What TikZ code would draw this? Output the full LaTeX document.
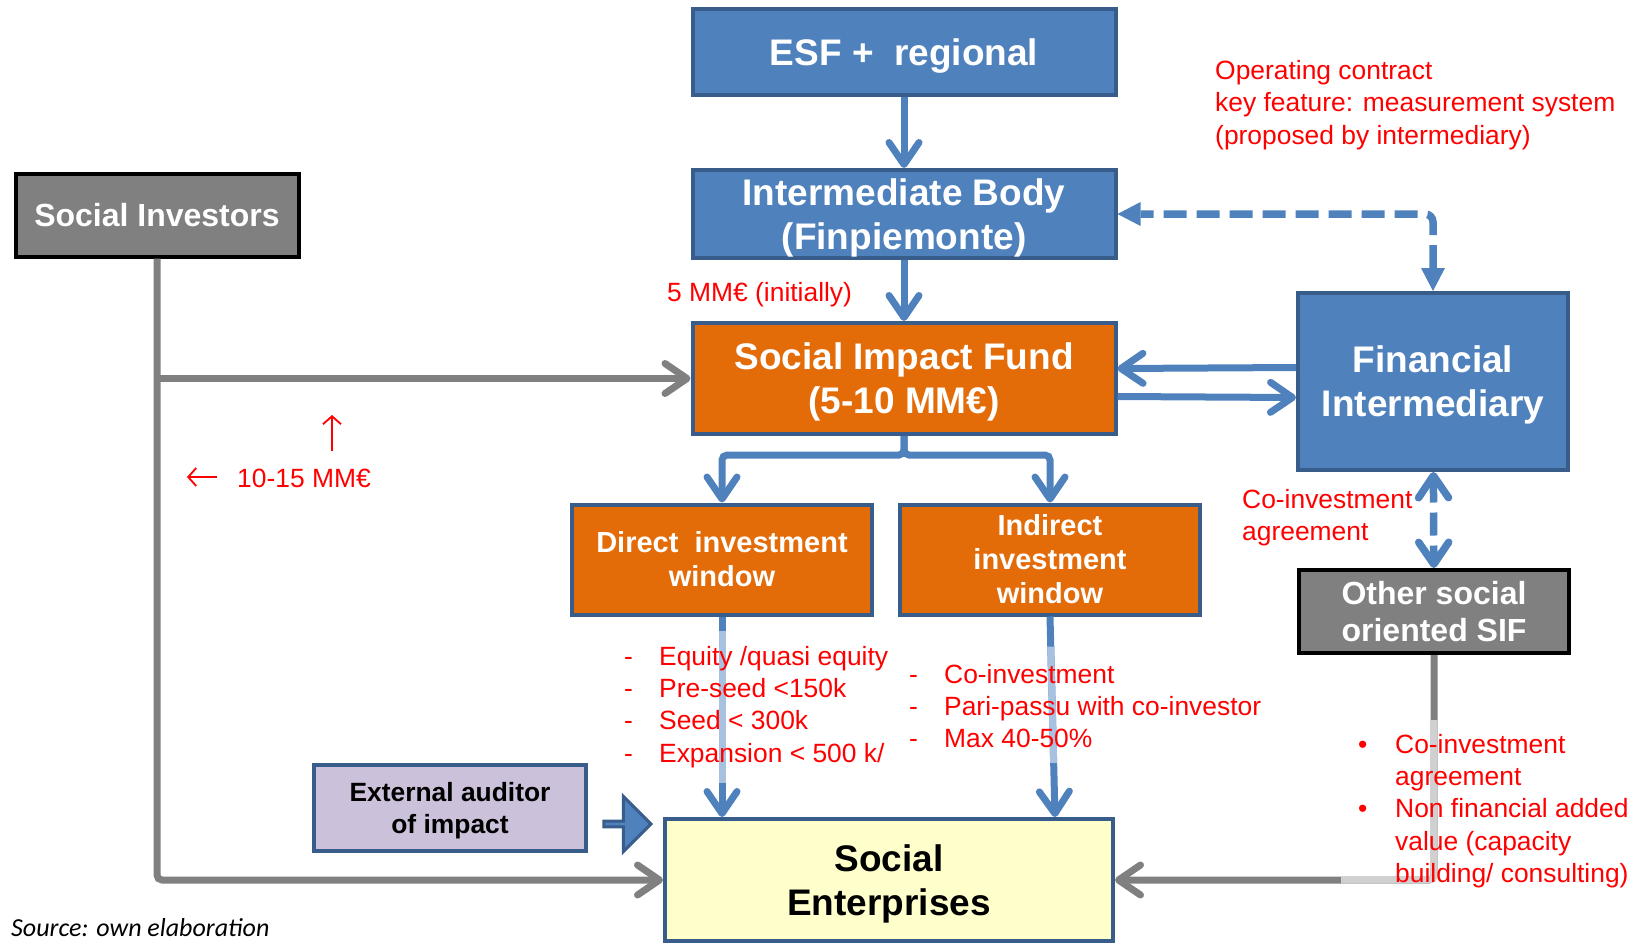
\documentclass[tikz,border=0pt]{standalone}
\usepackage{fontspec}
\setmainfont{Liberation Sans}
\newfontfamily\sourcefont{Carlito}
\usetikzlibrary{arrows.meta,calc,shapes.arrows}

\definecolor{esfblue}{HTML}{4F81BD}
\definecolor{rimblue}{HTML}{385D8A}
\definecolor{fundorange}{HTML}{E36C09}
\definecolor{lilac}{HTML}{CCC1DA}
\definecolor{paleyellow}{HTML}{FFFFCC}
\definecolor{flowgray}{HTML}{808080}
\definecolor{fadegray}{HTML}{D0D0D0}
\definecolor{fadeblue}{HTML}{A9C1E0}

% struts so that the capitals sit in the middle of a box
\newcommand\capup{\rule{0pt}{0.95em}}
\newcommand\capdown{\rule[-0.234em]{0pt}{0.234em}}

\tikzset{
  box/.style={draw=rimblue, line width=4pt, fill=esfblue, text=white, align=center, inner sep=0pt},
  fundbox/.style={box, fill=fundorange},
  graybox/.style={box, draw=black, fill=flowgray},
  bigtext/.style={font=\bfseries\fontsize{37}{44}\selectfont},
  midtext/.style={font=\bfseries\fontsize{32}{37}\selectfont},
  wintext/.style={font=\bfseries\fontsize{29}{34}\selectfont},
  note/.style={text=red, align=left, inner sep=0pt, font=\fontsize{26.4}{32.2}\selectfont},
  barb/.tip={Straight Barb[length=22pt,width=30pt,round]},
  flow/.style={draw=esfblue, line width=7pt, -barb},
  grayflow/.style={draw=flowgray, line width=7pt, -barb},
  linkdash/.style={draw=esfblue, line width=7.5pt, dash pattern=on 23pt off 10pt},
}

\begin{document}
\begin{tikzpicture}[x=1pt,y=-1pt]
    \useasboundingbox (0,0) rectangle (1636,943);

    % boxes
    \node[box, bigtext, minimum width=423pt, minimum height=86pt] (esf) at (904,52) {\capup ESF +\ \ regional\capdown};
    \node[box, bigtext, minimum width=423pt, minimum height=88pt] (body) at (904,214) {\capup Intermediate Body\\(Finpiemonte)\capdown};
    \node[fundbox, bigtext, minimum width=423pt, minimum height=111pt] (fund) at (904,378.5) {\capup Social Impact Fund\\(5-10 MM€)\capdown};
    \node[graybox, midtext, minimum width=283pt, minimum height=83pt] (investors) at (157,215) {\capup Social Investors\capdown};
    \node[box, bigtext, minimum width=270pt, minimum height=177pt] (fi) at (1433,381.5) {\capup Financial\\Intermediary\capdown};
    \node[fundbox, wintext, minimum width=300pt, minimum height=110pt] (direct) at (722,559.5) {\capup Direct\ \ investment\\window\capdown};
    \node[fundbox, wintext, minimum width=300pt, minimum height=110pt] (indirect) at (1050,559.5) {\capup Indirect\\investment\\window\capdown};
    \node[graybox, midtext, minimum width=270pt, minimum height=83pt] (other) at (1434,611.5) {\capup Other social\\oriented SIF\capdown};
    \node[box, fill=lilac, text=black, font=\bfseries\fontsize{26.4}{32}\selectfont,
          minimum width=272pt, minimum height=86pt] (auditor) at (450,808) {\capup External auditor\\of impact\capdown};
    \node[box, fill=paleyellow, text=black, bigtext, minimum width=448pt, minimum height=122pt] (enterprises) at (889,880) {\capup Social\\Enterprises\capdown};
    \node[single arrow, draw=rimblue, fill=esfblue, line width=3pt, inner sep=0pt,
          minimum width=55pt, minimum height=47pt, single arrow head extend=13pt] (auditflow) at (626,824) {};

    % money flows
    \draw[flow] (esf) -- (body);
    \draw[flow] (body) -- (fund);
    \draw[flow] ([yshift=14pt]fi.west) -- ([yshift=10pt]fund.east);
    \draw[flow] ([yshift=-18pt]fund.east) -- ([yshift=-16pt]fi.west);
    \draw[flow, rounded corners=5pt] (fund.south) -- ++(0,19) -| (direct.north);
    \draw[flow, rounded corners=5pt] (fund.south) -- ++(0,19) -| (indirect.north);

    \draw[flow] (direct.south) -- (direct.south |- enterprises.north);
    \draw[fadeblue, line width=7pt] ($(direct.south)!0.07!(direct.south |- enterprises.north)$)
        -- ($(direct.south)!0.83!(direct.south |- enterprises.north)$);
    \coordinate (indtip) at ([xshift=5pt]indirect.south |- enterprises.north);
    \draw[flow] (indirect.south) -- (indtip);
    \draw[fadeblue, line width=7pt] ($(indirect.south)!0.15!(indtip)$) -- ($(indirect.south)!0.73!(indtip)$);

    % contract links
    \draw[linkdash, rounded corners=8pt, {Triangle[line width=0pt,length=23pt,width=24pt]}-{Triangle[line width=0pt,length=23pt,width=24pt]}]
        (fi.north) |- (body.east);
    \draw[linkdash, barb-barb] (fi) -- (other);

    % private money
    \draw[grayflow, rounded corners=5pt] (investors.south) |- (enterprises.west);
    \draw[grayflow] (investors.south |- fund.west) -- (fund.west);
    \draw[grayflow, rounded corners=5pt] (other.south) |- (enterprises.east);
    \draw[fadegray, line width=7pt, rounded corners=5pt] ([yshift=-65pt]other.south) |- ([xshift=226pt]enterprises.east);

    % notes
    \node[note, anchor=west] (contract) at (1215,105) {Operating contract\\key feature: measurement system\\(proposed by intermediary)};
    \node[note, anchor=west] (initial) at (667,295) {5 MM€ (initially)};
    \node[note, anchor=west] (private) at (237,478) {10-15 MM€};
    \coordinate (lefttail) at (217,477);
    \coordinate (lefthead) at (187,477);
    \coordinate (uptail) at (332,451);
    \coordinate (uphead) at (332,415);
    \draw[red, line width=1.8pt, -{Straight Barb[length=8pt,width=18pt]}] (lefttail) -- (lefthead);
    \draw[red, line width=1.8pt, -{Straight Barb[length=8pt,width=18pt]}] (uptail) -- (uphead);
    \node[note, anchor=west] (coinvest) at (1242,518) {Co-investment\\agreement};
    \node[note, anchor=west] (directterms) at (624,707) {\makebox[35pt][l]{-}Equity /quasi equity\\\makebox[35pt][l]{-}Pre-seed <150k\\\makebox[35pt][l]{-}Seed < 300k\\\makebox[35pt][l]{-}Expansion < 500 k/};
    \node[note, anchor=west] (indirectterms) at (909,706) {\makebox[35pt][l]{-}Co-investment\\\makebox[35pt][l]{-}Pari-passu with co-investor\\\makebox[35pt][l]{-}Max 40-50\%};
    \node[note, anchor=west] (sifterms) at (1358,811) {\makebox[37pt][l]{•}Co-investment\\\hspace*{37pt}agreement\\\makebox[37pt][l]{•}Non financial added\\\hspace*{37pt}value (capacity\\\hspace*{37pt}building/ consulting)};

    \node[anchor=base west, inner sep=0pt, font=\sourcefont\itshape\fontsize{26}{30}\selectfont] (source) at (11,936) {Source: own elaboration};
\end{tikzpicture}
\end{document}
